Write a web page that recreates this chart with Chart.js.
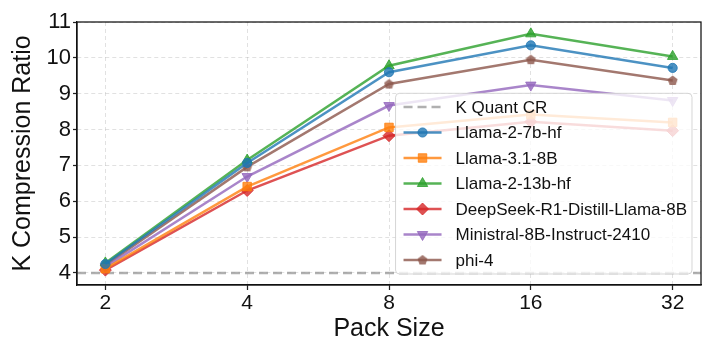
<!DOCTYPE html>
<html>
<head>
<meta charset="utf-8">
<script src="https://cdn.jsdelivr.net/npm/chart.js@4.4.1/dist/chart.umd.min.js"></script>
<style>
  html, body { margin: 0; padding: 0; background: #fff; }
  #wrap { width: 714px; height: 357px; position: relative; }
</style>
</head>
<body>
<div id="wrap"><canvas id="c" width="714" height="357"></canvas></div>
<script>
// ---- data ----
const packSizes = [2, 4, 8, 16, 32];
const yTickValues = [4, 5, 6, 7, 8, 9, 10, 11];
const kQuantLabel = 'K Quant CR';
const kQuantCR = 4;
const seriesNames = ['Llama-2-7b-hf', 'Llama-3.1-8B', 'Llama-2-13b-hf', 'DeepSeek-R1-Distill-Llama-8B', 'Ministral-8B-Instruct-2410', 'phi-4'];
const llama27b   = [4.25, 7.07, 9.60, 10.35, 9.72];
const llama31    = [4.12, 6.41, 8.06, 8.42, 8.20];
const llama213b  = [4.28, 7.15, 9.78, 10.67, 10.04];
const deepseek   = [4.08, 6.30, 7.83, 8.22, 7.97];
const ministral  = [4.17, 6.69, 8.67, 9.24, 8.81];
const phi4       = [4.22, 6.96, 9.27, 9.95, 9.37];
const seriesValues = [llama27b, llama31, llama213b, deepseek, ministral, phi4];

// ---- styles ----
const FONT = '"Liberation Sans", Arial, Helvetica, sans-serif';
const colors = ['rgba(31,119,180,0.8)', 'rgba(255,127,14,0.8)', 'rgba(44,160,44,0.8)',
                'rgba(214,39,40,0.8)', 'rgba(148,103,189,0.8)', 'rgba(140,86,75,0.8)'];

function pentagon(color) {
  const cv = document.createElement('canvas');
  cv.width = 11; cv.height = 11;
  const c = cv.getContext('2d');
  c.fillStyle = color;
  c.beginPath();
  for (let i = 0; i < 5; i++) {
    const a = -Math.PI / 2 + i * 2 * Math.PI / 5;
    const x = 5.5 + 5.2 * Math.cos(a), y = 5.8 + 5.2 * Math.sin(a);
    if (i === 0) c.moveTo(x, y); else c.lineTo(x, y);
  }
  c.closePath();
  c.fill();
  return cv;
}

const markers = [
  { style: 'circle', radius: 4.6, rotation: 0 },
  { style: 'rect', radius: 6, rotation: 0 },
  { style: 'triangle', radius: 6, rotation: 0 },
  { style: 'rectRot', radius: 6, rotation: 0 },
  { style: 'triangle', radius: 6, rotation: 180 },
  { style: pentagon(colors[5]), radius: 5, rotation: 0 }
];

const datasets = seriesNames.map((name, i) => ({
  label: name,
  data: packSizes.map((p, j) => ({ x: Math.log2(p), y: seriesValues[i][j] })),
  borderColor: colors[i],
  backgroundColor: colors[i],
  pointBackgroundColor: colors[i],
  pointBorderColor: colors[i],
  pointBorderWidth: 1,
  borderWidth: 2.5,
  pointStyle: markers[i].style,
  pointRadius: markers[i].radius,
  pointRotation: markers[i].rotation,
  tension: 0
}));

function drawMarker(ctx, m, color, x, y) {
  ctx.save();
  ctx.fillStyle = color; ctx.strokeStyle = color; ctx.lineWidth = 1;
  ctx.translate(x, y);
  ctx.rotate(m.rotation * Math.PI / 180);
  const r = m.radius;
  ctx.beginPath();
  if (typeof m.style !== 'string') {
    ctx.drawImage(m.style, -m.style.width / 2, -m.style.height / 2);
    ctx.restore();
    return;
  } else if (m.style === 'circle') {
    ctx.arc(0, 0, r, 0, Math.PI * 2);
  } else if (m.style === 'rect') {
    const s = Math.SQRT1_2 * r;
    ctx.rect(-s, -s, 2 * s, 2 * s);
  } else if (m.style === 'rectRot') {
    ctx.moveTo(0, -r); ctx.lineTo(r, 0); ctx.lineTo(0, r); ctx.lineTo(-r, 0);
  } else if (m.style === 'triangle') {
    for (let k = 0; k < 3; k++) {
      const a = -Math.PI / 2 + k * 2 * Math.PI / 3;
      const px = r * Math.cos(a), py = r * Math.sin(a);
      if (k === 0) ctx.moveTo(px, py); else ctx.lineTo(px, py);
    }
  }
  ctx.closePath();
  ctx.fill();
  ctx.stroke();
  ctx.restore();
}

const refLinePlugin = {
  id: 'refLine',
  beforeDatasetsDraw(chart) {
    const { ctx, chartArea: ca, scales } = chart;
    const y = scales.y.getPixelForValue(kQuantCR);
    ctx.save();
    ctx.strokeStyle = 'rgba(150,150,150,0.75)';
    ctx.lineWidth = 2.5;
    ctx.setLineDash([9, 5]);
    ctx.beginPath();
    ctx.moveTo(ca.left, y); ctx.lineTo(ca.right, y);
    ctx.stroke();
    ctx.restore();
  }
};

const framePlugin = {
  id: 'frame',
  afterDraw(chart) {
    const { ctx, chartArea: ca } = chart;
    ctx.save();
    ctx.strokeStyle = '#111';
    ctx.lineWidth = 1.25;
    ctx.strokeRect(ca.left, ca.top, ca.right - ca.left, ca.bottom - ca.top);
    ctx.restore();
  }
};

const legendPlugin = {
  id: 'mplLegend',
  afterDatasetsDraw(chart) {
    const { ctx, chartArea: ca } = chart;
    const fs = 17, rowH = 25.5;
    ctx.save();
    ctx.font = fs + 'px ' + FONT;
    const labels = [kQuantLabel].concat(seriesNames);
    const textW = Math.max.apply(null, labels.map(l => ctx.measureText(l).width));
    const w = 60 + textW + 5;
    const h = 13.7 + rowH * (labels.length - 1) + 14;
    const right = ca.right - 9, bottom = ca.bottom - 11;
    const left = right - w, top = bottom - h;
    // frame
    ctx.beginPath();
    if (ctx.roundRect) ctx.roundRect(left, top, w, h, 4); else ctx.rect(left, top, w, h);
    ctx.fillStyle = 'rgba(255,255,255,0.8)';
    ctx.fill();
    ctx.strokeStyle = 'rgba(204,204,204,0.8)';
    ctx.lineWidth = 1;
    ctx.stroke();
    ctx.textBaseline = 'middle';
    ctx.textAlign = 'left';
    labels.forEach((lab, i) => {
      const cy = top + 13.7 + i * rowH;
      const x0 = left + 8, x1 = left + 46;
      ctx.save();
      ctx.lineWidth = 2.5;
      if (i === 0) {
        ctx.strokeStyle = 'rgba(150,150,150,0.75)';
        ctx.setLineDash([9, 5]);
      } else {
        ctx.strokeStyle = colors[i - 1];
      }
      ctx.beginPath();
      ctx.moveTo(x0, cy); ctx.lineTo(x1, cy);
      ctx.stroke();
      ctx.restore();
      if (i > 0) drawMarker(ctx, markers[i - 1], colors[i - 1], (x0 + x1) / 2, cy);
      ctx.fillStyle = '#111';
      ctx.fillText(lab, left + 60, cy + 1);
    });
    ctx.restore();
  }
};

const gridCommon = {
  color: 'rgba(170,170,170,0.35)',
  lineWidth: 1,
  tickColor: '#222',
  tickWidth: 1.25,
  tickBorderDash: []
};

new Chart(document.getElementById('c'), {
  type: 'line',
  data: { datasets },
  plugins: [refLinePlugin, legendPlugin, framePlugin],
  options: {
    responsive: false,
    animation: false,
    events: [],
    layout: { padding: { left: 0, top: 22, right: 13, bottom: 0 } },
    plugins: { legend: { display: false }, tooltip: { enabled: false } },
    scales: {
      x: {
        type: 'linear',
        min: Math.log2(packSizes[0]) - 0.2,
        max: Math.log2(packSizes[packSizes.length - 1]) + 0.2,
        afterBuildTicks: (s) => { s.ticks = packSizes.map(p => ({ value: Math.log2(p) })); },
        afterFit: (s) => { s.height = 72; },
        grid: Object.assign({ tickLength: 5 }, gridCommon),
        border: { display: true, color: '#111', width: 1.25, dash: [4, 3] },
        ticks: {
          color: '#111',
          padding: 1,
          font: { family: FONT, size: 21 },
          maxRotation: 0,
          callback: (v) => String(Math.round(Math.pow(2, v)))
        },
        title: {
          display: true, text: 'Pack Size', color: '#111',
          font: { family: FONT, size: 25 },
          padding: { top: 0, bottom: 13 }
        }
      },
      y: {
        type: 'linear',
        min: 3.665,
        max: 11,
        afterBuildTicks: (s) => { s.ticks = yTickValues.map(v => ({ value: v })); },
        afterFit: (s) => { s.width = 77; },
        grid: Object.assign({ tickLength: 4 }, gridCommon),
        border: { display: true, color: '#111', width: 1.25, dash: [4, 3] },
        ticks: {
          color: '#111',
          padding: 2,
          font: { family: FONT, size: 22 },
          callback: (v) => String(v)
        },
        title: {
          display: true, text: 'K Compression Ratio', color: '#111',
          font: { family: FONT, size: 25 },
          padding: { top: 8, bottom: 0 }
        }
      }
    }
  }
});
</script>
</body>
</html>
